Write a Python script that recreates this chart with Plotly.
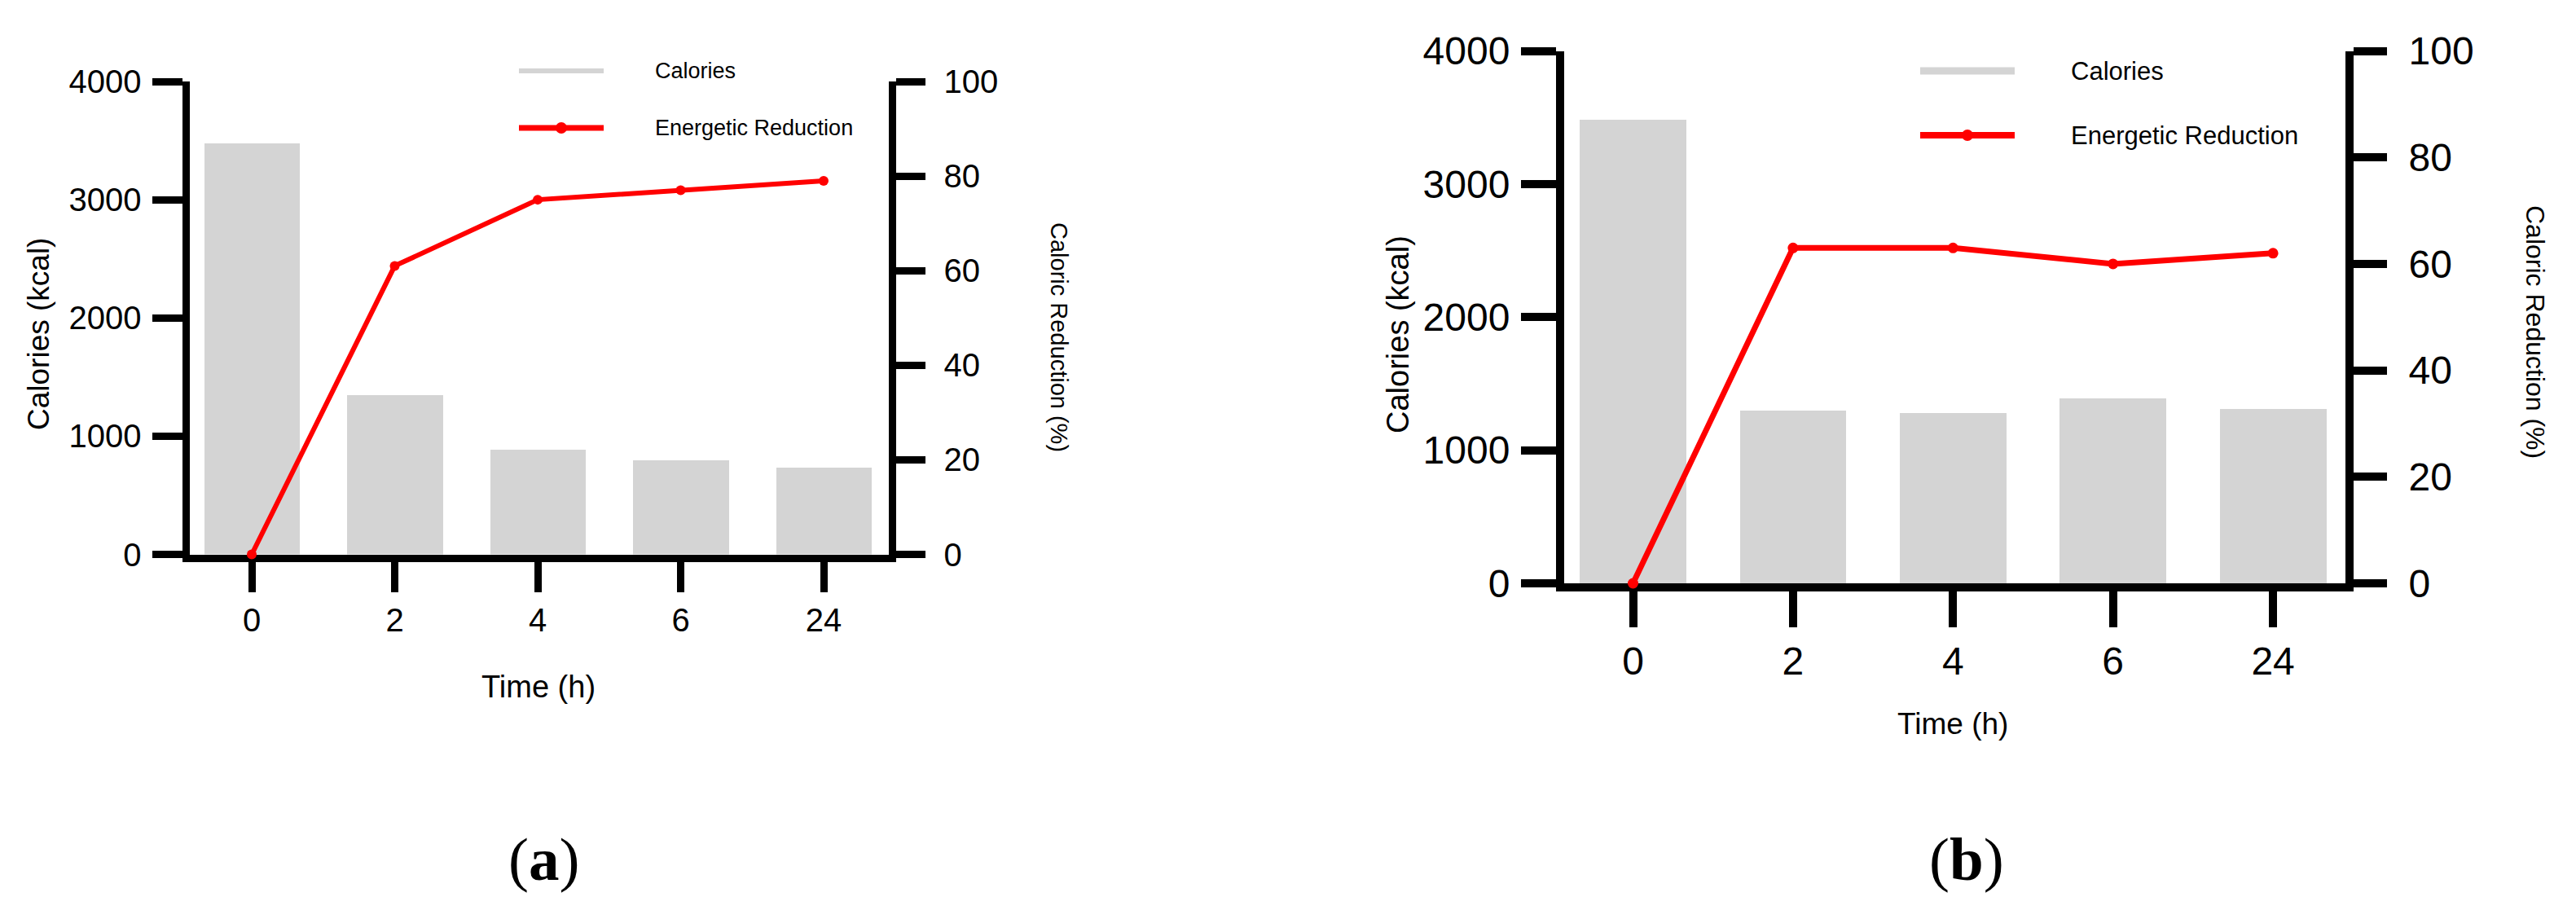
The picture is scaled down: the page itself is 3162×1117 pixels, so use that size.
import plotly.graph_objects as go

W, H = 3162, 1117

# ---------------- data ----------------
time_labels = ["0", "2", "4", "6", "24"]
calories_a = [3478, 1344, 885, 799, 736]
reduction_a = [0, 61, 75, 77, 79]
calories_b = [3483, 1298, 1284, 1392, 1312]
reduction_b = [0, 63, 63, 60, 62]
left_ticks = [0, 1000, 2000, 3000, 4000]
right_ticks = [0, 20, 40, 60, 80, 100]
panel_labels = ["a", "b"]
legend_names = ["Calories", "Energetic Reduction"]
x_title = "Time (h)"
y_title = "Calories (kcal)"
y2_title = "Caloric Reduction (%)"

BAR_COLOR = "#d4d4d4"
RED = "#ff0000"
SANS = "Liberation Sans, Arial, sans-serif"
SERIF = "Liberation Serif, Times New Roman, serif"


def px(x):
    return x / W


def py(y):
    return 1 - y / H


fig = go.Figure()

panels = [
    dict(cal=calories_a, red=reduction_a, xa="x", ya="y", ya2="y2",
         dom_x=(232.5, 1090.5), dom_y=(680.5, 100), c0=309, step=175.5,
         lw=9, tl_left=37, tl_x=37, tl_right=36, tfont=40, bar_w=0.667,
         line_w=6, msize=12, so_left=5, so_right=15, so_x=0,
         ytitle=(48, 410, 37), y2title=(1300, 414, 29), xtitle=(661, 843, 38),
         leg=dict(x0=637, x1=741, xt=802, y1=87, y2=157, w1=6, w2=7, ms=14, fs=27),
         label=(667, 1054)),
    dict(cal=calories_b, red=reduction_b, xa="x2", ya="y3", ya2="y4",
         dom_x=(1920, 2879), dom_y=(716, 62.5), c0=2004.5, step=196.4,
         lw=10, tl_left=43, tl_x=44, tl_right=41, tfont=48, bar_w=0.666,
         line_w=7, msize=13, so_left=4, so_right=17, so_x=0,
         ytitle=(1716, 411, 38), y2title=(3112, 407, 32), xtitle=(2397, 888, 37),
         leg=dict(x0=2357, x1=2473, xt=2540, y1=87, y2=166, w1=9, w2=8, ms=14, fs=31),
         label=(2414, 1054)),
]

annotations = []
shapes = []


def note(x, y, text, size, family=SANS, angle=0, xanchor="center"):
    return dict(x=px(x), y=py(y), xref="paper", yref="paper", text=text,
                textangle=angle, showarrow=False, xanchor=xanchor, yanchor="middle",
                font=dict(family=family, size=size, color="black"))


for i, p in enumerate(panels):
    fig.add_trace(go.Bar(
        x=time_labels, y=p["cal"], xaxis=p["xa"], yaxis=p["ya"],
        width=p["bar_w"], marker=dict(color=BAR_COLOR, line=dict(width=0)),
        name=legend_names[0], showlegend=False))
    fig.add_trace(go.Scatter(
        x=time_labels, y=p["red"], xaxis=p["xa"], yaxis=p["ya2"],
        mode="lines+markers", line=dict(color=RED, width=p["line_w"]),
        marker=dict(color=RED, size=p["msize"]), cliponaxis=False,
        name=legend_names[1], showlegend=False))

    x0, x1 = p["dom_x"]
    yb, yt = p["dom_y"]
    rng = [(x0 - p["c0"]) / p["step"], (x1 - p["c0"]) / p["step"]]
    axis_common = dict(showline=True, linewidth=p["lw"], linecolor="black",
                       ticks="outside", tickwidth=p["lw"], tickcolor="black",
                       showgrid=False, zeroline=False, layer="below traces",
                       automargin=False,
                       tickfont=dict(family=SANS, size=p["tfont"], color="black"))
    xkey = "xaxis" if i == 0 else "xaxis2"
    ykey = "yaxis" if i == 0 else "yaxis3"
    y2key = "yaxis2" if i == 0 else "yaxis4"
    fig.update_layout(**{
        xkey: dict(domain=[px(x0), px(x1)], anchor=p["ya"], type="category",
                   range=rng, ticklen=p["tl_x"], ticklabelstandoff=p["so_x"],
                   **axis_common),
        ykey: dict(domain=[py(yb), py(yt)], anchor=p["xa"], range=[0, 4000],
                   tickvals=left_ticks, ticklen=p["tl_left"],
                   ticklabelstandoff=p["so_left"], **axis_common),
        y2key: dict(domain=[py(yb), py(yt)], anchor=p["xa"], overlaying=p["ya"],
                    side="right", range=[0, 100], tickvals=right_ticks,
                    ticklen=p["tl_right"], ticklabelstandoff=p["so_right"],
                    **axis_common),
    })

    tx, ty, ts = p["ytitle"]
    annotations.append(note(tx, ty, y_title, ts, angle=-90))
    tx, ty, ts = p["y2title"]
    annotations.append(note(tx, ty, y2_title, ts, angle=90))
    tx, ty, ts = p["xtitle"]
    annotations.append(note(tx, ty, x_title, ts))
    lx, ly = p["label"]
    annotations.append(note(lx, ly, "(<b>%s</b>)" % panel_labels[i], 75, family=SERIF))

    # legend keys
    L = p["leg"]
    shapes.append(dict(type="line", xref="paper", yref="paper",
                       x0=px(L["x0"]), x1=px(L["x1"]), y0=py(L["y1"]), y1=py(L["y1"]),
                       line=dict(color=BAR_COLOR, width=L["w1"])))
    shapes.append(dict(type="line", xref="paper", yref="paper",
                       x0=px(L["x0"]), x1=px(L["x1"]), y0=py(L["y2"]), y1=py(L["y2"]),
                       line=dict(color=RED, width=L["w2"])))
    cx = px((L["x0"] + L["x1"]) / 2)
    r = L["ms"] / 2
    shapes.append(dict(type="circle", xref="paper", yref="paper",
                       xsizemode="pixel", ysizemode="pixel",
                       xanchor=cx, yanchor=py(L["y2"]),
                       x0=-r, x1=r, y0=-r, y1=r,
                       fillcolor=RED, line=dict(width=0)))
    for name, yy in zip(legend_names, (L["y1"], L["y2"])):
        annotations.append(note(L["xt"], yy, name, L["fs"], xanchor="left"))

fig.update_layout(
    width=W, height=H, autosize=False,
    margin=dict(l=0, r=0, t=0, b=0, pad=0, autoexpand=False),
    paper_bgcolor="white", plot_bgcolor="white",
    showlegend=False, bargap=0,
    annotations=annotations, shapes=shapes,
)

fig.write_html("out.html", config={"displayModeBar": False},
               post_script="document.body.style.margin='0';")
